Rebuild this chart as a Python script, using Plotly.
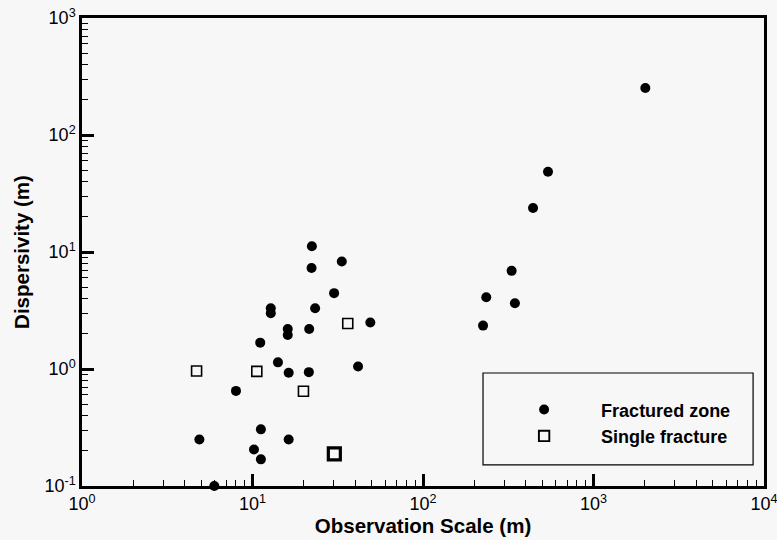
import plotly.graph_objects as go

# Fractured zone data (observation scale m, dispersivity m)
frac_x = [22.3, 33.4, 22.2, 30.1, 12.8, 12.8, 23.3, 49.1, 21.5, 16.1, 16.1, 11.1,
          14.1, 41.6, 16.3, 21.4, 8.0, 4.88, 11.2, 10.2, 11.2, 16.3, 5.97,
          541, 442, 331, 235, 346, 225, 2014]
frac_y = [11.2, 8.3, 7.3, 4.45, 3.3, 3.0, 3.3, 2.5, 2.2, 2.2, 1.95, 1.68,
          1.14, 1.05, 0.93, 0.94, 0.65, 0.25, 0.305, 0.205, 0.169, 0.25, 0.1,
          48.5, 23.8, 6.9, 4.1, 3.65, 2.35, 252]

# Single fracture data
single_x = [36.2, 4.7, 10.6, 19.9, 30.2]
single_y = [2.45, 0.96, 0.955, 0.645, 0.188]
single_size = [10, 10, 10, 10, 12]
single_lw = [1.6, 1.6, 1.6, 1.6, 3.2]

# Axis tick labels
x_tickvals = [1, 10, 100, 1000, 10000]
x_ticktext = ["10<sup>0</sup>", "10<sup>1</sup>", "10<sup>2</sup>", "10<sup>3</sup>", "10<sup>4</sup>"]
y_tickvals = [0.1, 1, 10, 100, 1000]
y_ticktext = ["10<sup>-1</sup>", "10<sup>0</sup>", "10<sup>1</sup>", "10<sup>2</sup>", "10<sup>3</sup>"]

x_minor = [m * d for d in [1, 10, 100, 1000] for m in range(2, 10)]
y_minor = [m * d for d in [0.1, 1, 10, 100] for m in range(2, 10)]

FONT = "Liberation Sans, Arial, sans-serif"
TICKFONT = "Liberation Sans Narrow, Liberation Sans, Arial, sans-serif"

fig = go.Figure()
fig.add_trace(go.Scatter(
    x=frac_x, y=frac_y, mode="markers", name="Fractured zone",
    marker=dict(symbol="circle", size=10, color="black", opacity=1, line=dict(width=0)),
    cliponaxis=False,
))
fig.add_trace(go.Scatter(
    x=single_x, y=single_y, mode="markers", name="Single fracture",
    marker=dict(symbol="square", size=single_size, color="rgba(0,0,0,0)", opacity=1,
                line=dict(width=single_lw, color="#000000")),
))

axis_common = dict(
    type="log", showgrid=False, zeroline=False, automargin=False,
    showline=True, linewidth=2.5, linecolor="black", mirror=True,
    ticks="inside", ticklen=12, tickwidth=2.5, tickcolor="black",
    tickmode="array", ticklabeloverflow="allow",
    tickfont=dict(family=TICKFONT, size=18, color="black"),
)

fig.update_xaxes(
    **axis_common,
    range=[0, 4],
    tickvals=x_tickvals, ticktext=x_ticktext,
    minor=dict(tickmode="array", tickvals=x_minor, ticks="inside",
               ticklen=6, tickwidth=1.2, tickcolor="black", showgrid=False),
    title=dict(text="<b>Observation Scale (m)</b>",
               font=dict(family=FONT, size=20.5, color="black"), standoff=0),
)
fig.update_yaxes(
    **axis_common,
    range=[-1, 3],
    tickvals=y_tickvals, ticktext=y_ticktext,
    minor=dict(tickmode="array", tickvals=y_minor, ticks="inside",
               ticklen=6, tickwidth=1.2, tickcolor="black", showgrid=False),
    title=dict(text="<b>Dispersivity (m)</b>",
               font=dict(family=FONT, size=20.5, color="black"), standoff=10),
)

# legend box
fig.add_shape(type="rect", xref="paper", yref="paper",
              x0=0.588, x1=0.984, y0=0.045, y1=0.2415,
              line=dict(color="black", width=1.2), fillcolor="rgba(0,0,0,0)")

fig.update_layout(
    width=777, height=540,
    margin=dict(l=82, r=13, t=18, b=54),
    paper_bgcolor="#f7f7f7", plot_bgcolor="#f7f7f7",
    showlegend=True,
    legend=dict(
        x=0.594, y=0.135, xanchor="left", yanchor="middle",
        bgcolor="rgba(0,0,0,0)", borderwidth=0,
        font=dict(family=FONT, size=18, color="black", weight="bold"),
        itemwidth=104, tracegroupgap=0,
    ),
    font=dict(family=FONT, color="black"),
)

fig.write_html("out.html")
